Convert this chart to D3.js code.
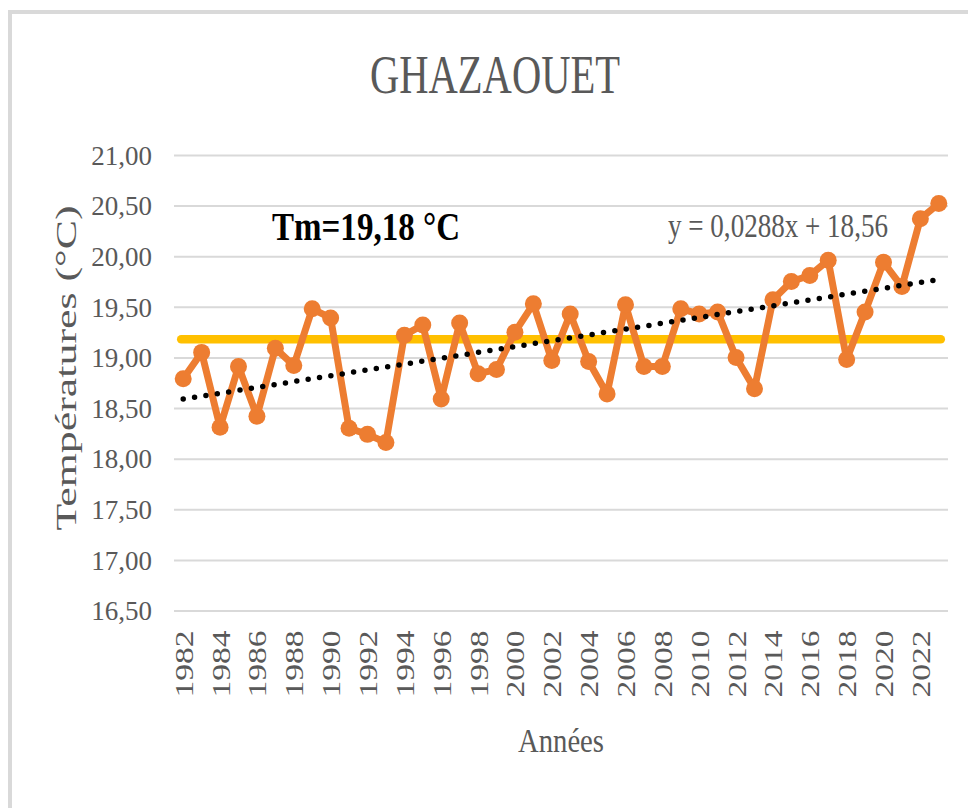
<!DOCTYPE html>
<html>
<head>
<meta charset="utf-8">
<script src="https://cdn.jsdelivr.net/npm/d3@7"></script>
<style>
  html, body { margin: 0; padding: 0; background: #fff; }
  svg { display: block; }
  text { font-family: "Liberation Serif", "Times New Roman", serif; }
</style>
</head>
<body>
<svg id="chart" width="968" height="808"></svg>
<script>
// ---- data ----
const years = d3.range(1982, 2024);
const temps = [
  18.79, 19.05, 18.31, 18.91, 18.42, 19.09, 18.92, 19.48, 19.39, 18.30,
  18.24, 18.16, 19.22, 19.32, 18.59, 19.34, 18.84, 18.88, 19.25, 19.53,
  18.97, 19.43, 18.96, 18.64, 19.52, 18.91, 18.91, 19.48, 19.43, 19.45,
  19.00, 18.69, 19.57, 19.75, 19.81, 19.96, 18.98, 19.45, 19.94, 19.70,
  20.37, 20.52
];
const yTicks = [16.5, 17, 17.5, 18, 18.5, 19, 19.5, 20, 20.5, 21];
const xTickYears = d3.range(1982, 2023, 2);
const meanTemp = 19.18;
const trendSlope = 0.0288, trendIntercept = 18.56;
const titleText = "GHAZAOUET";
const yLabel = "Températures (°C)";
const xLabel = "Années";
const meanLabel = "Tm=19,18 °C";
const eqLabel = "y = 0,0288x + 18,56";

// ---- layout ----
const svg = d3.select("#chart");
const pLeft = 174, pRight = 948, pTop = 155, pBottom = 610.5;
const x = d3.scalePoint().domain(years).range([pLeft, pRight]).padding(0.5);
const y = d3.scaleLinear().domain([16.5, 21]).range([pBottom, pTop]);
const fmt = v => d3.format(".2f")(v).replace(".", ",");

// frame (left & top edges visible)
svg.append("line").attr("x1", 10).attr("x2", 10).attr("y1", 10).attr("y2", 808)
  .attr("stroke", "#d9d9d9").attr("stroke-width", 4);
svg.append("line").attr("x1", 8).attr("x2", 968).attr("y1", 12).attr("y2", 12)
  .attr("stroke", "#d9d9d9").attr("stroke-width", 4);

// gridlines
const yAxis = d3.axisLeft(y).tickValues(yTicks).tickFormat(fmt)
  .tickSize(-(pRight - pLeft)).tickPadding(22);
const gy = svg.append("g").attr("transform", `translate(${pLeft},0)`).call(yAxis);
gy.select(".domain").remove();
gy.selectAll(".tick line").attr("stroke", "#d9d9d9").attr("stroke-width", 2);
gy.selectAll(".tick text").attr("fill", "#595959").attr("font-size", 27)
  .attr("font-family", "Liberation Serif").attr("dy", "0.34em");

// x tick labels (rotated)
const xAxis = d3.axisBottom(x).tickValues(xTickYears).tickSize(0).tickFormat(d3.format("d"));
const gx = svg.append("g").attr("transform", `translate(0,${pBottom})`).call(xAxis);
gx.select(".domain").remove();
gx.selectAll(".tick text")
  .attr("fill", "#595959").attr("font-size", 26).attr("font-family", "Liberation Serif")
  .attr("text-anchor", "end").attr("y", 0).attr("dy", 0)
  .attr("transform", "translate(9,20) rotate(-90)")
  .attr("textLength", 67).attr("lengthAdjust", "spacingAndGlyphs");

// mean line
svg.append("line")
  .attr("x1", x(years[0]) - 2).attr("x2", x(years[years.length - 1]) + 2)
  .attr("y1", y(meanTemp)).attr("y2", y(meanTemp))
  .attr("stroke", "#FFC000").attr("stroke-width", 8.5).attr("stroke-linecap", "round");

// series line
const line = d3.line().x((d, i) => x(years[i])).y(d => y(d));
svg.append("path").datum(temps).attr("d", line)
  .attr("fill", "none").attr("stroke", "#ED7D31").attr("stroke-width", 7)
  .attr("stroke-linejoin", "round");
svg.selectAll("circle.pt").data(temps).join("circle").attr("class", "pt")
  .attr("cx", (d, i) => x(years[i])).attr("cy", d => y(d)).attr("r", 8.5)
  .attr("fill", "#ED7D31");

// trend line (dotted)
const n = years.length;
svg.append("line")
  .attr("x1", x(years[0])).attr("y1", y(trendIntercept + trendSlope * 1))
  .attr("x2", x(years[n - 1])).attr("y2", y(trendIntercept + trendSlope * n))
  .attr("stroke", "#000").attr("stroke-width", 5.5)
  .attr("stroke-dasharray", "0 11.5").attr("stroke-linecap", "round");

// title
svg.append("text").attr("x", 495).attr("y", 93).attr("text-anchor", "middle")
  .attr("font-size", 55).attr("fill", "#595959")
  .attr("textLength", 250).attr("lengthAdjust", "spacingAndGlyphs").text(titleText);

// y label
svg.append("text").attr("transform", "translate(76,368) rotate(-90)")
  .attr("text-anchor", "middle").attr("font-size", 30).attr("fill", "#595959")
  .attr("textLength", 325).attr("lengthAdjust", "spacingAndGlyphs").text(yLabel);

// x label
svg.append("text").attr("x", 561).attr("y", 752).attr("text-anchor", "middle")
  .attr("font-size", 34).attr("fill", "#595959")
  .attr("textLength", 86).attr("lengthAdjust", "spacingAndGlyphs").text(xLabel);

// annotations
svg.append("text").attr("x", 272).attr("y", 240)
  .attr("font-size", 39).attr("font-weight", "bold").attr("fill", "#000")
  .attr("textLength", 188).attr("lengthAdjust", "spacingAndGlyphs").text(meanLabel);
svg.append("text").attr("x", 668).attr("y", 237)
  .attr("font-size", 33).attr("fill", "#595959")
  .attr("textLength", 220).attr("lengthAdjust", "spacingAndGlyphs").text(eqLabel);
</script>
</body>
</html>
